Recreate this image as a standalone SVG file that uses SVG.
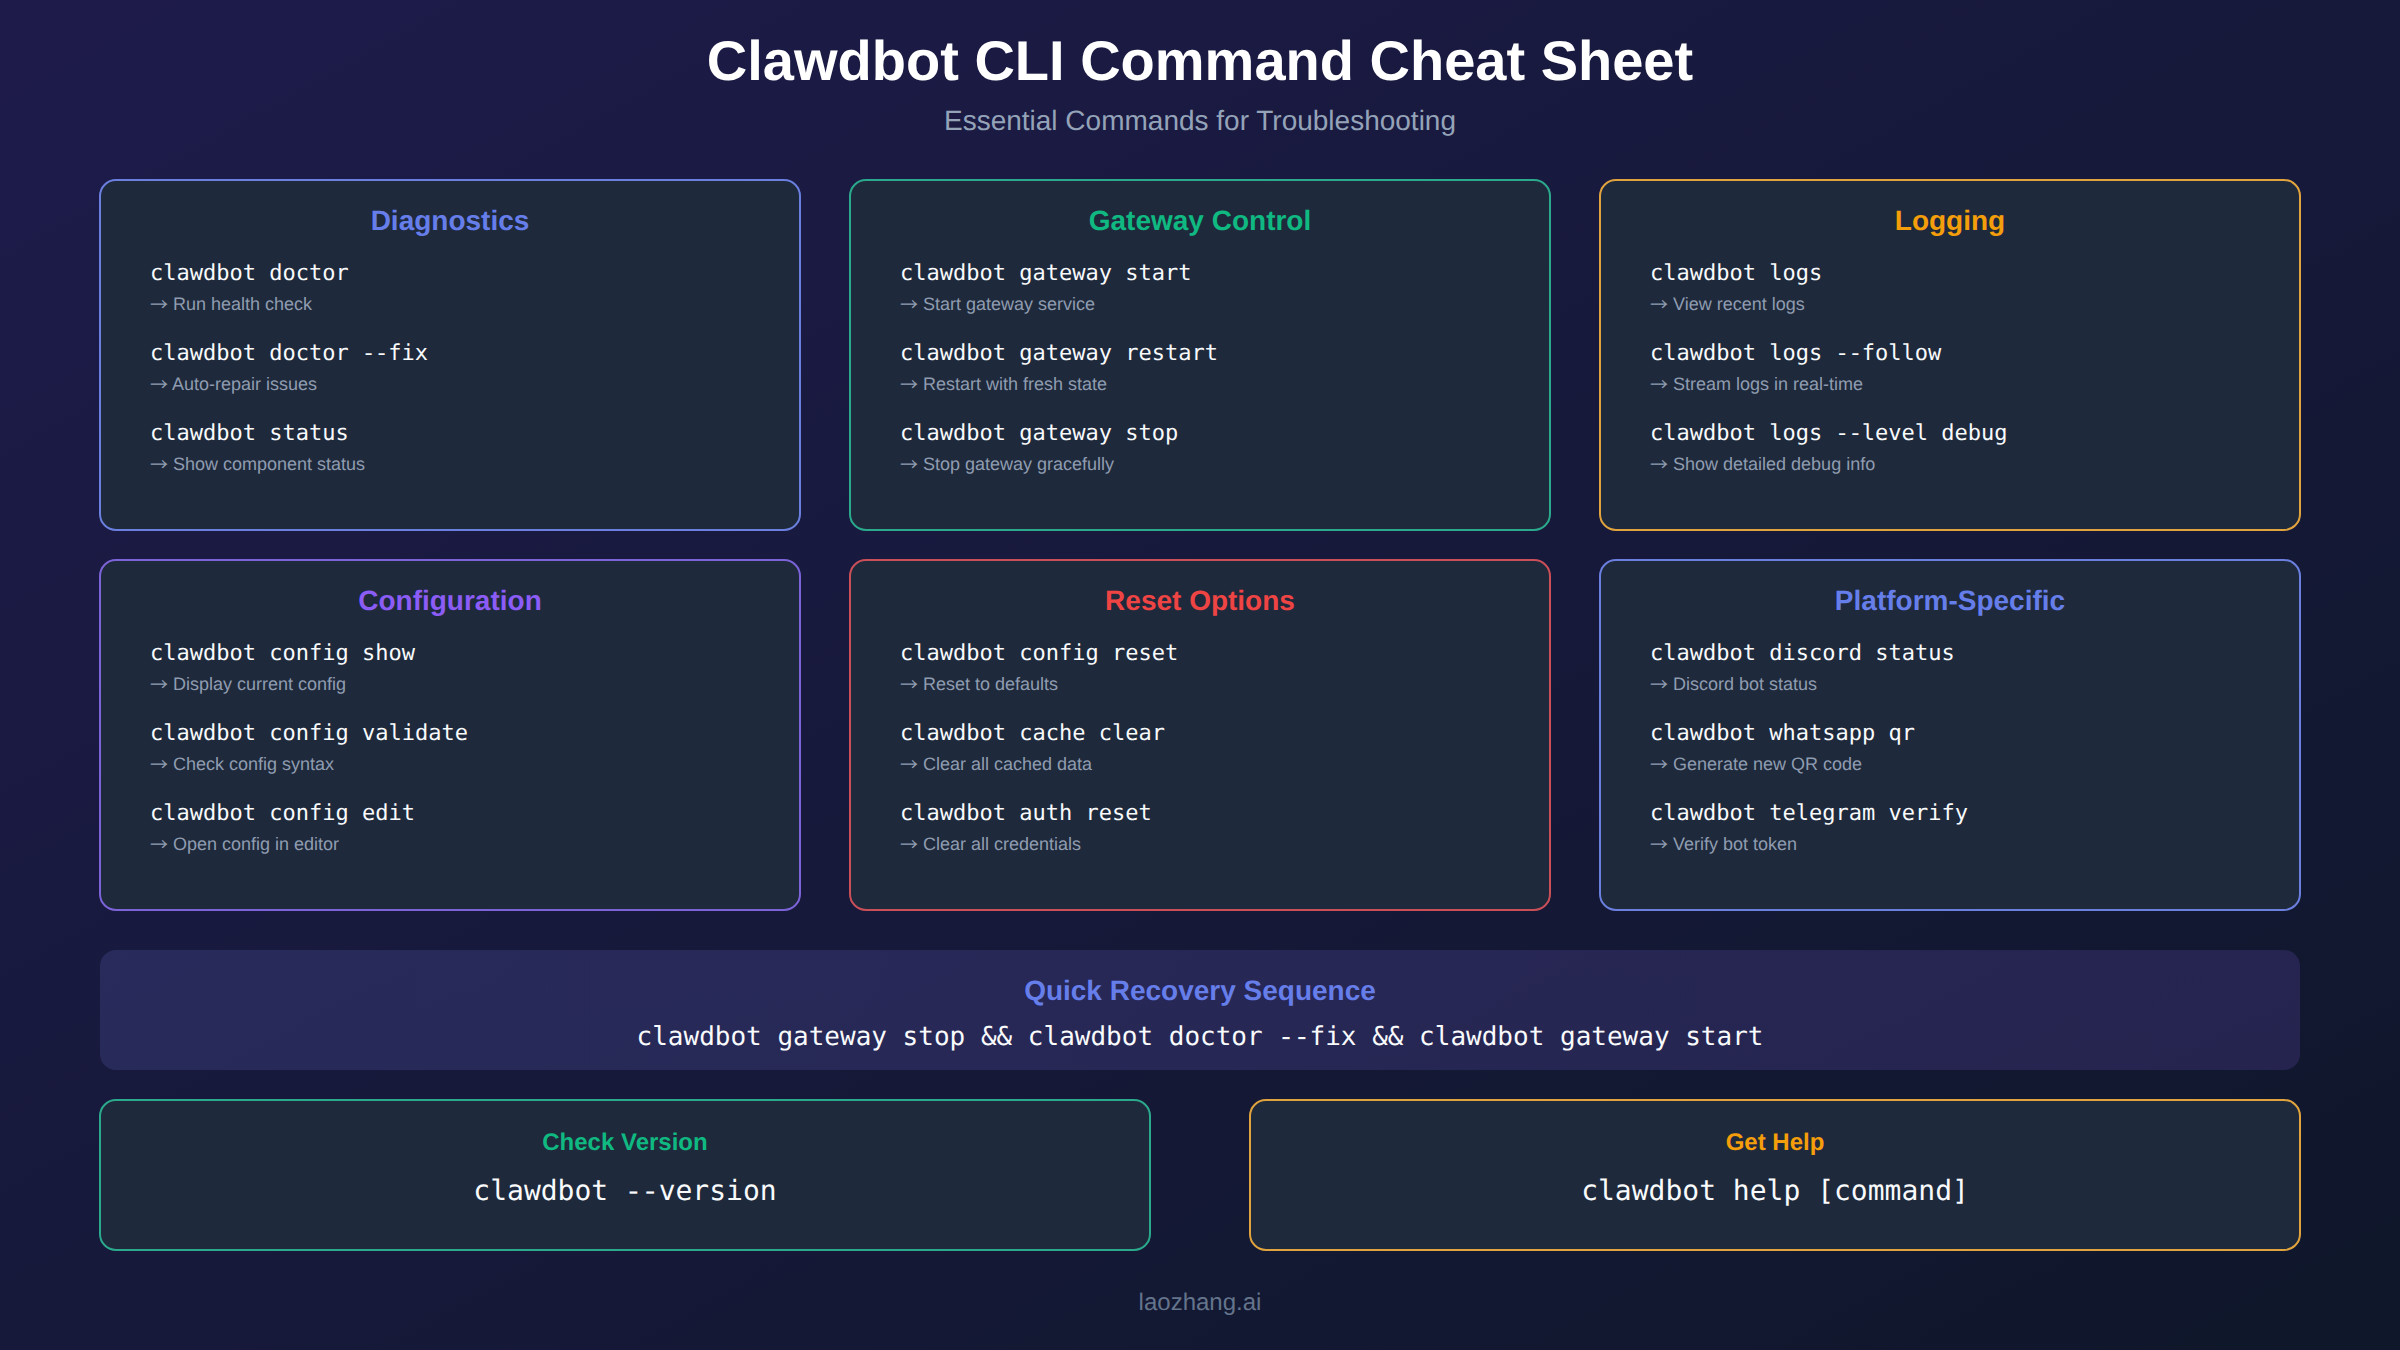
<svg xmlns="http://www.w3.org/2000/svg" width="2400" height="1350" viewBox="0 0 2400 1350" text-rendering="geometricPrecision">
<style>
text{font-family:"Liberation Sans",Arial,sans-serif}
.t{font-size:56px;font-weight:700;fill:#fff;text-anchor:middle}
.s{font-size:28px;fill:#94a3b8;text-anchor:middle}
.h{font-size:28px;font-weight:700;text-anchor:middle}
.c{font-family:"DejaVu Sans Mono",monospace;font-size:22px;fill:#f8fafc}
.m{font-family:"Liberation Mono",monospace}
.a{font-family:"Noto Sans CJK SC",sans-serif;baseline-shift:-1px}
.d{font-size:18px;fill:#8f9cb0}
.card{fill:#1e293b;stroke-width:2}
.f{font-size:24px;fill:#64748b;text-anchor:middle}
</style>
<defs><linearGradient id="bg" x1="0" y1="0" x2="1" y2="1"><stop offset="0" stop-color="#1e1b4b"/><stop offset="1" stop-color="#0f172a"/></linearGradient>
<linearGradient id="rec" x1="0" y1="0" x2="1" y2="0"><stop offset="0" stop-color="#6670cc"/><stop offset="1" stop-color="#7855d2"/></linearGradient></defs>
<rect width="2400" height="1350" fill="url(#bg)"/>
<text class="t" x="1200" y="80">Clawdbot CLI Command Cheat Sheet</text>
<text class="s" x="1200" y="130">Essential Commands for Troubleshooting</text>
<g id="diagnostics"><rect class="card" x="100" y="180" width="700" height="350" rx="16" stroke="#6a7fde"/><text class="h" x="450" y="230" fill="#667eea">Diagnostics</text>
<text class="c" x="150" y="280">clawdbot doctor</text><text class="d" x="150" y="310"><tspan class="a">→</tspan> Run health check</text><text class="c" x="150" y="360">clawdbot doctor <tspan class="m">--</tspan>fix</text><text class="d" x="150" y="390"><tspan class="a">→</tspan> Auto-repair issues</text><text class="c" x="150" y="440">clawdbot status</text><text class="d" x="150" y="470"><tspan class="a">→</tspan> Show component status</text></g>
<g id="gateway"><rect class="card" x="850" y="180" width="700" height="350" rx="16" stroke="#2ba98c"/><text class="h" x="1200" y="230" fill="#10b981">Gateway Control</text>
<text class="c" x="900" y="280">clawdbot gateway start</text><text class="d" x="900" y="310"><tspan class="a">→</tspan> Start gateway service</text><text class="c" x="900" y="360">clawdbot gateway restart</text><text class="d" x="900" y="390"><tspan class="a">→</tspan> Restart with fresh state</text><text class="c" x="900" y="440">clawdbot gateway stop</text><text class="d" x="900" y="470"><tspan class="a">→</tspan> Stop gateway gracefully</text></g>
<g id="logging"><rect class="card" x="1600" y="180" width="700" height="350" rx="16" stroke="#e0a33e"/><text class="h" x="1950" y="230" fill="#f59e0b">Logging</text>
<text class="c" x="1650" y="280">clawdbot logs</text><text class="d" x="1650" y="310"><tspan class="a">→</tspan> View recent logs</text><text class="c" x="1650" y="360">clawdbot logs <tspan class="m">--</tspan>follow</text><text class="d" x="1650" y="390"><tspan class="a">→</tspan> Stream logs in real-time</text><text class="c" x="1650" y="440">clawdbot logs <tspan class="m">--</tspan>level debug</text><text class="d" x="1650" y="470"><tspan class="a">→</tspan> Show detailed debug info</text></g>
<g id="configuration"><rect class="card" x="100" y="560" width="700" height="350" rx="16" stroke="#7c63d8"/><text class="h" x="450" y="610" fill="#8b5cf6">Configuration</text>
<text class="c" x="150" y="660">clawdbot config show</text><text class="d" x="150" y="690"><tspan class="a">→</tspan> Display current config</text><text class="c" x="150" y="740">clawdbot config validate</text><text class="d" x="150" y="770"><tspan class="a">→</tspan> Check config syntax</text><text class="c" x="150" y="820">clawdbot config edit</text><text class="d" x="150" y="850"><tspan class="a">→</tspan> Open config in editor</text></g>
<g id="reset"><rect class="card" x="850" y="560" width="700" height="350" rx="16" stroke="#c94f58"/><text class="h" x="1200" y="610" fill="#ef4444">Reset Options</text>
<text class="c" x="900" y="660">clawdbot config reset</text><text class="d" x="900" y="690"><tspan class="a">→</tspan> Reset to defaults</text><text class="c" x="900" y="740">clawdbot cache clear</text><text class="d" x="900" y="770"><tspan class="a">→</tspan> Clear all cached data</text><text class="c" x="900" y="820">clawdbot auth reset</text><text class="d" x="900" y="850"><tspan class="a">→</tspan> Clear all credentials</text></g>
<g id="platform"><rect class="card" x="1600" y="560" width="700" height="350" rx="16" stroke="#6a7fde"/><text class="h" x="1950" y="610" fill="#667eea">Platform-Specific</text>
<text class="c" x="1650" y="660">clawdbot discord status</text><text class="d" x="1650" y="690"><tspan class="a">→</tspan> Discord bot status</text><text class="c" x="1650" y="740">clawdbot whatsapp qr</text><text class="d" x="1650" y="770"><tspan class="a">→</tspan> Generate new QR code</text><text class="c" x="1650" y="820">clawdbot telegram verify</text><text class="d" x="1650" y="850"><tspan class="a">→</tspan> Verify bot token</text></g>
<g id="recovery"><rect x="100" y="950" width="2200" height="120" rx="16" fill="url(#rec)" fill-opacity=".2"/><text x="1200" y="1000" font-size="28" font-weight="700" fill="#667eea" text-anchor="middle">Quick Recovery Sequence</text><text class="c" x="1200" y="1045" style="font-size:26px" text-anchor="middle">clawdbot gateway stop &amp;&amp; clawdbot doctor <tspan class="m">--</tspan>fix &amp;&amp; clawdbot gateway start</text></g>
<g id="version"><rect class="card" x="100" y="1100" width="1050" height="150" rx="16" stroke="#2ba98c"/><text x="625" y="1150" font-size="24" font-weight="700" fill="#10b981" text-anchor="middle">Check Version</text><text class="c" x="625" y="1200" style="font-size:28px" text-anchor="middle">clawdbot <tspan class="m">--</tspan>version</text></g>
<g id="help"><rect class="card" x="1250" y="1100" width="1050" height="150" rx="16" stroke="#e0a33e"/><text x="1775" y="1150" font-size="24" font-weight="700" fill="#f59e0b" text-anchor="middle">Get Help</text><text class="c" x="1775" y="1200" style="font-size:28px" text-anchor="middle">clawdbot help [command]</text></g>
<text class="f" x="1200" y="1310">laozhang.ai</text>
</svg>
